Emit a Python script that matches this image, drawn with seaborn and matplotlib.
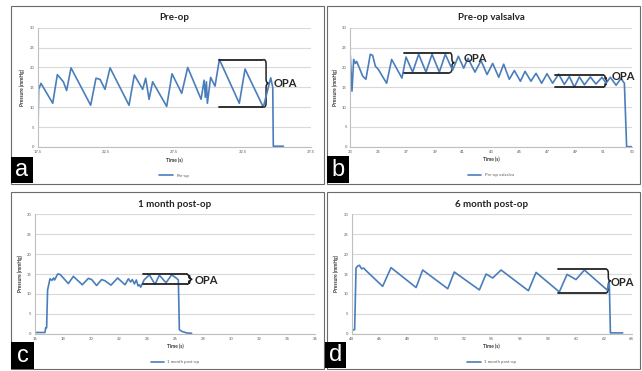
import matplotlib
matplotlib.use("Agg")
import matplotlib.pyplot as plt
import seaborn as sns
import pandas as pd
from matplotlib.patches import Rectangle, PathPatch
from matplotlib.path import Path

# pressure traces: time (s) / pressure (mmHg)
preop_t = [17.50, 17.57, 17.74, 18.60, 18.94, 19.38, 19.62, 19.94, 21.38, 21.77,
           22.07, 22.43, 22.80, 24.19, 24.58, 25.19, 25.41, 25.66, 25.92, 26.95,
           27.34, 28.05, 28.49, 29.47, 29.69, 29.78, 29.86, 29.93, 30.17, 30.49,
           30.81, 32.27, 32.69, 34.03, 34.57, 34.72, 34.76, 35.50]
preop_p = [0, 14.5, 16, 11, 18.2, 16.4, 14.2, 19.9, 10.5, 17.3,
           17, 14.5, 19.9, 10.5, 18.1, 14.5, 17.3, 12, 16.4, 10.2,
           18.4, 13.5, 20, 12, 16.8, 12.5, 16.4, 11, 17.5, 15.3,
           22, 11, 19.6, 10, 17.4, 15, 0.2, 0.2]

valsalva_t = [33.00, 33.12, 33.24, 33.36, 33.45, 33.57, 33.88, 34.11, 34.42, 34.59,
              34.78, 34.99, 35.58, 35.94, 36.67, 36.96, 37.43, 37.86, 38.38, 38.81,
              39.33, 39.75, 40.27, 40.68, 41.06, 41.36, 41.86, 42.29, 42.72, 43.12,
              43.55, 43.90, 44.30, 44.66, 45.09, 45.42, 45.84, 46.20, 46.60, 46.98,
              47.38, 47.81, 48.21, 48.57, 48.92, 49.28, 49.64, 50.06, 50.46, 50.89,
              51.18, 51.48, 51.89, 52.24, 52.48, 52.64, 53.00]
valsalva_p = [23, 14, 22, 21, 21.5, 20.5, 17.8, 17, 23.3, 23,
              20.3, 19.5, 16, 22, 17.3, 22.6, 18.8, 23.3, 18.8, 23.3,
              18.8, 23.3, 19.3, 22.8, 19.8, 22.3, 18.8, 21.7, 18.2, 21,
              17.5, 20.8, 17, 19.2, 16.5, 19, 16.5, 18.5, 16, 18.4,
              16, 18.3, 15.7, 17.7, 15, 17.6, 15.6, 17.6, 15.8, 17.5,
              16, 17.5, 15.5, 17.2, 16, 0, 0]

month1_t = [16.00, 16.71, 16.76, 16.83, 16.90, 17.07, 17.21, 17.33, 17.40, 17.62,
            17.79, 18.38, 18.74, 19.38, 19.81, 20.05, 20.40, 20.76, 21.00, 21.43,
            21.90, 22.43, 22.67, 22.83, 22.95, 23.10, 23.24, 23.36, 23.45, 23.55,
            23.79, 24.17, 24.57, 24.88, 25.36, 25.76, 26.12, 26.24, 26.31, 26.48,
            26.83, 27.19]
month1_p = [0.3, 0.3, 1.5, 1.5, 11, 13.8, 13.4, 14, 13.5, 15,
            14.9, 12.6, 14.4, 12.3, 13.9, 13.6, 12.1, 13.6, 13.3, 12.2,
            14, 12.3, 13.8, 13, 13.6, 12.5, 13.5, 12, 12.3, 11.7,
            13.5, 14.8, 12.4, 14.7, 12.8, 14.8, 13.9, 13.5, 1.0, 0.6,
            0.2, 0.1]

month6_t = [44.00, 44.19, 44.21, 44.31, 44.43, 44.55, 44.71, 44.86, 44.98, 46.21,
            46.81, 48.60, 49.07, 50.86, 51.33, 53.12, 53.60, 54.07, 54.67, 56.62,
            57.17, 58.83, 59.38, 60.02, 60.62, 62.24, 62.40, 62.48, 63.36]
month6_p = [0.9, 1.0, 1.0, 16.5, 17, 17.2, 16.3, 16.5, 16, 11.9,
            16.6, 11.6, 16, 11.3, 15.5, 11, 15, 14, 16, 10.8,
            15.4, 10.5, 14.9, 13.6, 16, 11, 12.8, 0.2, 0.2]

titles = ['Pre-op', 'Pre-op valsalva', '1 month post-op', '6 month post-op']
legend_names = ['Pre-op', 'Pre-op valsalva', '1 month post-op', '1 month post-op']
letters = ['a', 'b', 'c', 'd']

BLUE = '#4a7ebb'
GREY = '#595959'

sns.set_style("white")
plt.rcParams['font.family'] = ['Lato', 'DejaVu Sans']

W, H = 642, 371
fig = plt.figure(figsize=(6.42, 3.71), dpi=100)


def fig_rect(x0, y0, x1, y1, **kw):
    r = Rectangle((x0 / W, 1 - y1 / H), (x1 - x0) / W, (y1 - y0) / H,
                  transform=fig.transFigure, **kw)
    fig.add_artist(r)


def brace(ax, x, y0, y1, w, r):
    ym = (y0 + y1) / 2
    verts = [(x, y1), (x + w, y1), (x + w, y1 - r),
             (x + w, ym + r), (x + w, ym), (x + 2 * w, ym),
             (x + w, ym), (x + w, ym - r),
             (x + w, y0 + r), (x + w, y0), (x, y0)]
    codes = [Path.MOVETO, Path.CURVE3, Path.CURVE3, Path.LINETO,
             Path.CURVE3, Path.CURVE3, Path.CURVE3, Path.CURVE3,
             Path.LINETO, Path.CURVE3, Path.CURVE3]
    ax.add_patch(PathPatch(Path(verts, codes), fill=False, lw=1.1,
                           edgecolor='#222222', clip_on=False))


def opa(ax, t0, t1, lo, hi, tx, ty, w):
    ax.plot([t0, t1], [hi, hi], color='#222222', lw=1.3)
    ax.plot([t0, t1], [lo, lo], color='#222222', lw=1.3)
    brace(ax, t1, lo, hi, w, 1.0)
    ax.text(tx, ty, 'OPA', fontsize=8, fontweight='bold', va='center', ha='left')


def panel(box, t, p, i, xlim, xticks):
    x0, x1, yt, yb = box
    ax = fig.add_axes([x0 / W, 1 - yb / H, (x1 - x0) / W, (yb - yt) / H])
    df = pd.DataFrame({'Time (s)': t, 'Pressure (mmHg)': p})
    sns.lineplot(data=df, x='Time (s)', y='Pressure (mmHg)', ax=ax, sort=False,
                 estimator=None, color=BLUE, lw=1.2, label=legend_names[i])
    ax.set_xlim(*xlim)
    ax.set_ylim(0, 30)
    ax.set_xticks(xticks)
    ax.set_yticks(range(0, 31, 5))
    ax.yaxis.grid(True, color='#d9d9d9', lw=0.8)
    ax.set_axisbelow(True)
    for s in ['top', 'right']:
        ax.spines[s].set_visible(False)
    for s in ['left', 'bottom']:
        ax.spines[s].set_color('#bfbfbf')
        ax.spines[s].set_linewidth(0.8)
    ax.tick_params(length=0, labelsize=3, colors=GREY, pad=2.5)
    ax.set_title(titles[i], fontsize=7, fontweight='bold', pad=5.5, color='#222222')
    ax.set_xlabel('Time (s)', fontsize=3.5, fontweight='bold', labelpad=2, color='#333333')
    ax.set_ylabel('Pressure (mmHg)', fontsize=3.5, fontweight='bold', labelpad=3, color='#333333')
    ax.legend(loc='center', bbox_to_anchor=(0.5, -0.24), frameon=False,
              fontsize=3.2, handlelength=3, labelcolor=GREY)
    return ax


# panel frames
fig_rect(11, 6, 324, 184, fill=False, edgecolor='#6b6b6b', lw=0.8)
fig_rect(327, 6, 640, 184, fill=False, edgecolor='#6b6b6b', lw=0.8)
fig_rect(11, 192, 324, 369, fill=False, edgecolor='#6b6b6b', lw=0.8)
fig_rect(327, 192, 640, 369, fill=False, edgecolor='#6b6b6b', lw=0.8)

ax_a = panel((37.7, 310.7, 27.7, 147), preop_t, preop_p, 0,
             (17.5, 37.5), [17.5, 22.5, 27.5, 32.5, 37.5])
ax_b = panel((350.3, 631.7, 27.7, 146.7), valsalva_t, valsalva_p, 1,
             (33, 53), range(33, 54, 2))
ax_c = panel((35, 315, 214.3, 333.7), month1_t, month1_p, 2,
             (16, 36), range(16, 37, 2))
ax_d = panel((351.7, 631.7, 214.3, 333.7), month6_t, month6_p, 3,
             (44, 64), range(44, 65, 2))

opa(ax_a, 30.81, 34.03, 10, 22, 34.75, 16, 0.2)
opa(ax_b, 36.84, 40.04, 18.65, 23.7, 41.05, 22.3, 0.18)
opa(ax_b, 47.55, 50.96, 15.0, 18.07, 51.55, 17.6, 0.18)
opa(ax_c, 23.69, 26.83, 12.4, 14.9, 27.4, 13.3, 0.2)
opa(ax_d, 58.76, 62.17, 10.3, 16.2, 62.5, 12.9, 0.16)

# panel letters
for (x0, y0, x1, y1), letter in zip([(11, 157, 33, 183), (327, 156, 349, 183),
                                     (11, 342, 34, 369), (325, 342, 346, 368)], letters):
    fig_rect(x0, y0, x1, y1, facecolor='black', edgecolor='none')
    fig.text((x0 + x1) / 2 / W, 1 - (y0 + y1) / 2 / H, letter, color='white',
             fontsize=17, ha='center', va='center', family='Liberation Sans')

fig.savefig('out.png', dpi=100)
